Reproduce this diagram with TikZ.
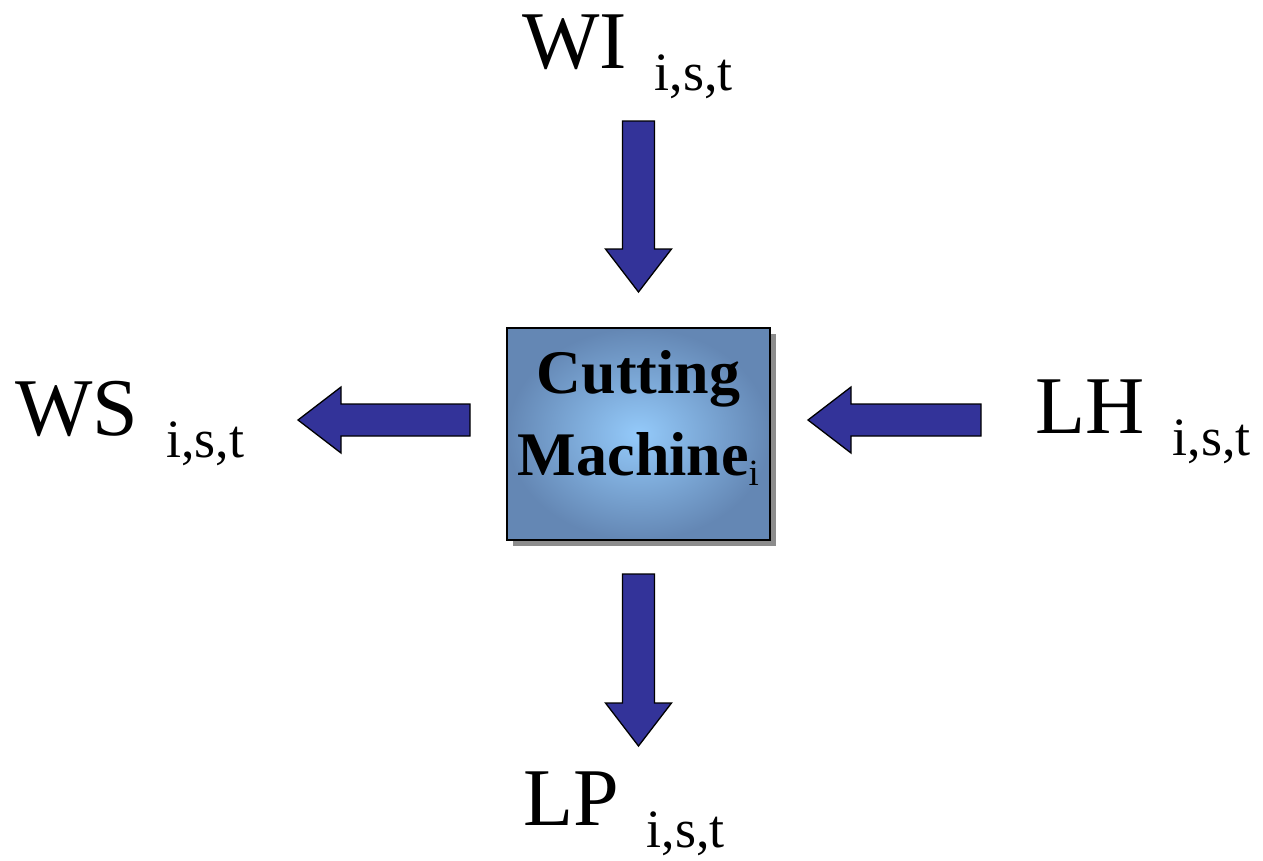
\documentclass[tikz,border=0pt]{standalone}
\usepackage{fontspec}
\setmainfont{Liberation Serif}
\usetikzlibrary{calc,shadows}

\definecolor{arrowblue}{RGB}{51,51,153}
\definecolor{boxedge}{RGB}{100,135,180}
\definecolor{boxcentre}{RGB}{148,202,250}

\newcommand{\flowvar}[2]{#1\hspace{28pt}\raisebox{-22pt}{\fontsize{54}{54}\selectfont #2}}

\begin{document}
\begin{tikzpicture}[x=1pt,y=-1pt,
	varlabel/.style={anchor=base west,inner sep=0pt,font=\fontsize{82}{82}\selectfont},
	machine/.style={draw=black,line width=2pt,inner color=boxcentre,outer color=boxedge,
		minimum width=263pt,minimum height=212pt,
		drop shadow={shadow xshift=6pt,shadow yshift=-6pt,fill=gray!90,opacity=1}},
	blockarrow/.style={draw=black,line width=1.3pt,fill=arrowblue,
		to path={let \p1=($(\tikztotarget)!43pt!(\tikztostart)$) in
			($(\tikztostart)!16pt!90:(\tikztotarget)$) -- ($(\p1)!16pt!-90:(\tikztostart)$)
			-- ($(\p1)!33pt!-90:(\tikztostart)$) -- (\tikztotarget)
			-- ($(\p1)!33pt!90:(\tikztostart)$) -- ($(\p1)!16pt!90:(\tikztostart)$)
			-- ($(\tikztostart)!16pt!-90:(\tikztotarget)$) -- cycle}}]
		\useasboundingbox (0,0) rectangle (1263,860);
		\node[machine] (cm) at (638.5,434) {};
		\node[align=center,inner sep=0pt,font=\fontsize{62}{82}\selectfont\bfseries] (cmlabel) at ($(cm.center)+(0,-16.5)$)
			{Cutting\\Machine\raisebox{-10pt}{\fontsize{37}{37}\selectfont\mdseries i}};
		\node[varlabel] (wi) at ($(cm.center)+(-116.5,-366)$) {\flowvar{WI}{i,s,t}};
		\node[varlabel] (ws) at ($(cm.center)+(-623.5,1)$) {\flowvar{WS}{i,s,t}};
		\node[varlabel] (lh) at ($(cm.center)+(396.5,-1)$) {\flowvar{LH}{i,s,t}};
		\node[varlabel] (lp) at ($(cm.center)+(-115.5,391)$) {\flowvar{LP}{i,s,t}};
		\coordinate (wi-tail) at ($(cm.north)+(0,-206)$);
		\coordinate (wi-tip) at ($(cm.north)+(0,-35)$);
		\coordinate (lh-tail) at ($(cm.east)+(210,-14)$);
		\coordinate (lh-tip) at ($(cm.east)+(37,-14)$);
		\coordinate (ws-tail) at ($(cm.west)+(-36,-14)$);
		\coordinate (ws-tip) at ($(cm.west)+(-208,-14)$);
		\coordinate (lp-tail) at ($(cm.south)+(0,33)$);
		\coordinate (lp-tip) at ($(cm.south)+(0,205)$);
		\draw [blockarrow] (wi-tail) to (wi-tip);
		\draw [blockarrow] (lh-tail) to (lh-tip);
		\draw [blockarrow] (ws-tail) to (ws-tip);
		\draw [blockarrow] (lp-tail) to (lp-tip);
		\end{tikzpicture}
\end{document}
